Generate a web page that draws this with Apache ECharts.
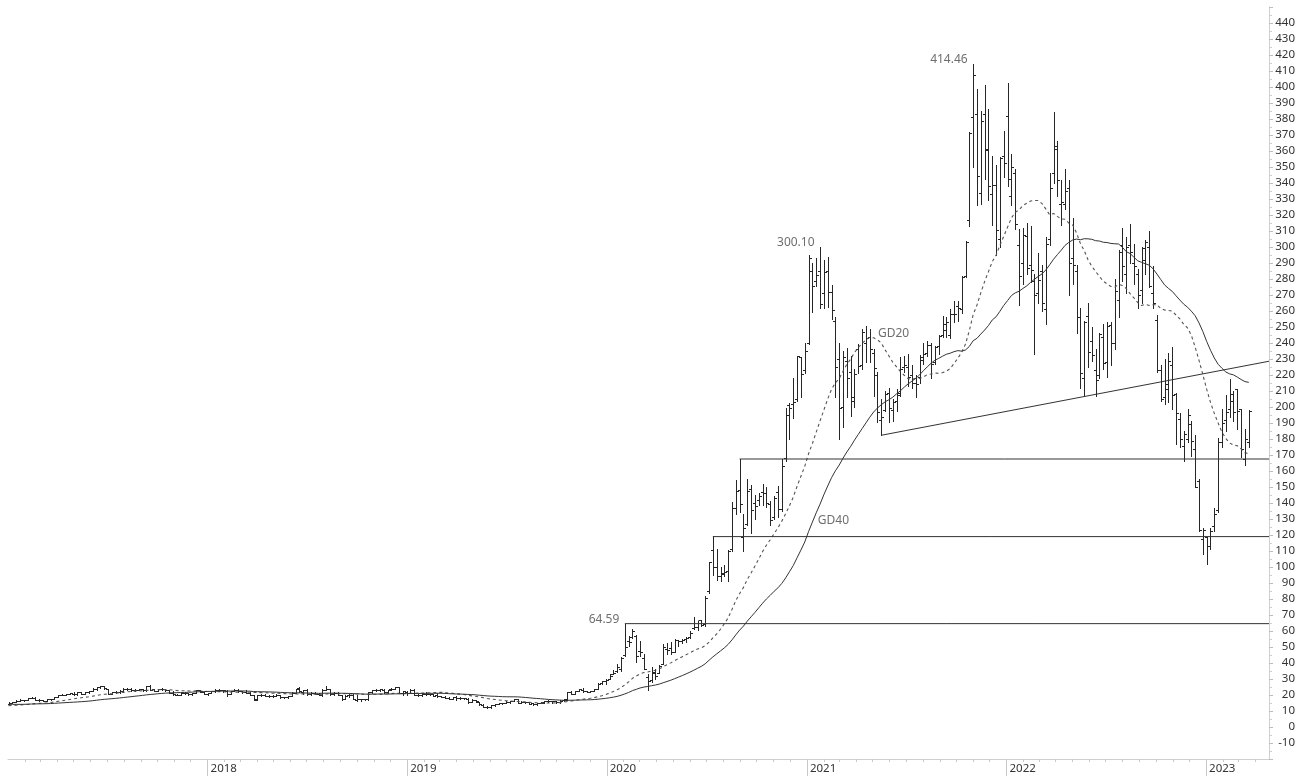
<!DOCTYPE html>
<html><head><meta charset="utf-8">
<script src="https://cdn.jsdelivr.net/npm/echarts@6/dist/echarts.min.js"></script>
<style>html,body{margin:0;padding:0;background:#fff}#c{width:1298px;height:776px}</style>
</head><body><div id="c"></div>
<script>
// ---- DATA (weekly OHLC, split-adjusted) ----
const firstWeek = [2017, 0, 2]; // Monday of the first plotted week
const seedClose2016 = [16.67,16.97,16.92,16.05,14.10,13.84,14.69,15.00,14.60,14.59,14.36,12.88,14.43,14.45,14.69,14.82,15.65,15.37,14.88,15.00,14.67,13.19,12.96,13.69,13.66,13.60,13.11,13.10,13.34,13.33,12.70,12.57,12.33,13.11,12.10,12.81,13.50,14.22,14.25];
const bars2017 = [[14.32,15.33,14.06,15.27],[15.27,15.92,15.10,15.85],[15.80,16.65,15.60,16.32],[16.35,17.25,16.30,16.86],[16.80,17.00,16.30,16.76],[16.80,18.00,16.70,17.95],[17.95,18.75,17.90,18.15],[18.30,18.60,16.90,17.13],[17.10,17.40,16.55,16.77],[16.70,16.95,16.15,16.25],[16.30,17.60,16.20,17.43],[17.40,17.70,16.90,17.54],[17.50,18.60,17.40,18.55],[19.00,20.30,18.90,20.17],[20.20,20.85,19.80,20.27],[20.20,20.55,19.90,20.37],[20.50,21.30,20.40,20.94],[20.90,21.80,20.00,20.56],[20.50,21.90,20.10,21.65],[21.60,21.70,20.40,20.72],[20.80,21.80,20.60,21.68],[21.70,22.80,21.50,22.66],[22.70,24.10,22.60,23.82],[23.90,25.20,23.10,24.76],[25.00,25.80,24.30,25.56],[25.50,25.70,23.80,24.11],[23.90,23.95,20.80,20.88],[20.90,22.10,20.60,21.85],[21.80,22.30,21.50,21.89],[21.90,23.00,21.50,22.34],[22.50,24.30,21.90,23.79],[23.90,24.50,23.10,23.86],[24.00,24.10,22.80,23.16],[23.00,23.50,22.70,23.20],[23.20,23.80,22.90,23.69],[23.60,23.70,22.60,22.89],[22.90,25.40,22.80,25.32],[25.50,25.97,23.20,23.41],[23.50,23.80,22.50,22.74],[22.80,24.00,22.70,23.79],[23.60,24.20,23.20,23.70],[23.70,24.00,22.60,23.01],[22.90,23.10,21.20,21.39],[21.30,22.30,19.90,20.41],[20.30,20.80,19.90,20.20],[20.20,21.30,19.80,21.00],[21.00,21.60,20.80,21.04],[21.00,21.20,20.30,20.44],[20.40,21.10,20.10,21.01],[21.10,23.00,21.00,22.90],[22.90,23.00,21.60,21.68],[21.60,21.70,20.60,20.76]];
const bars2018 = [[20.80,21.40,20.20,21.11],[21.10,22.60,21.00,22.41],[22.30,23.60,22.10,23.33],[23.40,23.70,22.50,22.86],[22.90,23.20,22.00,22.92],[22.20,22.90,19.65,20.69],[20.70,22.50,20.60,22.37],[22.50,24.00,22.30,23.40],[23.30,23.70,22.10,22.34],[22.30,22.60,21.20,21.81],[21.80,23.10,21.00,21.42],[21.40,21.60,20.10,20.10],[20.10,20.30,16.80,17.74],[16.90,20.30,16.80,19.95],[20.00,20.60,19.50,20.02],[19.95,20.50,19.20,19.35],[19.30,19.75,18.90,19.60],[19.60,20.10,18.60,19.61],[19.50,20.50,19.20,20.07],[20.00,20.10,18.30,18.45],[18.50,18.90,18.10,18.59],[18.50,19.60,18.30,19.45],[19.50,21.90,19.30,21.18],[21.30,24.00,21.20,23.88],[24.20,24.90,22.00,22.24],[22.10,23.10,20.90,22.86],[23.00,23.50,20.30,20.59],[20.60,21.70,20.20,21.26],[21.20,21.70,20.60,20.91],[20.90,21.30,19.70,19.81],[19.80,23.50,19.40,23.21],[23.40,25.80,23.20,23.70],[23.60,24.00,20.20,20.37],[20.40,21.90,20.10,21.52],[21.50,21.70,19.90,20.11],[19.80,20.20,16.70,17.55],[17.60,19.80,17.40,19.68],[19.70,20.40,19.00,19.94],[20.00,20.80,17.60,17.65],[16.90,20.10,16.40,17.46],[17.40,17.80,16.30,17.25],[17.20,17.50,16.60,17.40],[17.40,22.10,17.10,22.06],[22.00,23.20,21.10,23.09],[23.10,23.90,22.60,23.37],[23.30,23.80,22.60,23.62],[23.40,23.60,21.40,21.72],[21.70,23.40,21.50,23.37],[23.50,24.40,23.10,23.86],[24.00,25.30,23.80,25.12],[24.80,24.90,21.10,21.32],[21.00,22.30,19.80,22.26]];
const bars2019 = [[22.10,22.65,19.90,21.18],[21.10,23.60,21.00,23.15],[23.10,23.50,19.90,20.15],[20.10,20.60,19.30,19.80],[19.80,21.30,19.50,20.81],[20.80,21.60,20.10,20.39],[20.40,20.80,20.00,20.53],[20.50,20.70,19.60,19.65],[19.70,21.30,19.00,19.65],[19.40,19.50,18.50,18.94],[18.90,19.30,18.00,18.36],[18.30,18.70,17.50,17.64],[17.70,18.80,17.30,18.66],[18.70,19.20,17.10,18.33],[18.30,18.50,17.70,17.85],[17.90,18.40,17.60,18.22],[17.60,17.90,15.10,15.68],[15.80,17.20,15.60,17.00],[16.90,17.00,15.70,15.97],[15.80,15.90,13.90,14.07],[13.90,14.10,12.50,12.71],[12.70,12.90,12.10,12.34],[12.30,13.80,11.80,13.63],[13.70,14.50,13.40,14.26],[14.30,15.20,14.10,14.79],[14.90,15.20,14.50,14.90],[15.00,16.00,14.90,15.54],[15.50,16.50,15.30,16.36],[16.40,17.40,16.20,17.21],[17.20,17.30,15.00,15.20],[15.20,16.10,15.10,15.62],[15.40,15.80,15.00,15.67],[15.60,15.70,14.60,14.66],[14.70,15.10,14.00,14.09],[14.20,15.10,14.00,15.04],[15.00,15.40,14.90,15.31],[15.40,16.50,15.30,16.47],[16.40,16.60,15.80,16.04],[16.00,16.30,15.10,16.14],[16.10,16.30,15.00,15.43],[15.40,16.60,15.30,16.53],[16.60,17.30,16.50,17.13],[17.20,22.00,16.90,21.88],[21.90,22.20,20.50,20.89],[20.90,22.60,20.80,22.48],[22.60,23.50,22.30,23.48],[23.40,24.20,21.90,22.20],[22.20,22.70,21.90,22.00],[22.00,22.60,21.80,22.39],[22.40,24.00,22.30,23.89],[24.00,27.20,23.90,27.04],[27.30,29.00,27.10,28.69]];
const bars2020 = [[28.70,30.30,27.10,29.53],[29.90,33.20,29.70,31.88],[33.00,35.90,33.00,34.03],[34.70,39.40,34.40,37.65],[36.30,43.50,35.00,43.37],[44.91,64.59,44.30,49.87],[53.90,57.10,50.90,53.33],[56.20,61.20,55.50,60.07],[56.60,57.20,40.70,44.53],[47.40,53.80,44.40,46.90],[43.10,45.40,36.10,36.44],[31.30,32.90,23.37,28.51],[29.30,37.30,28.20,34.29],[33.60,36.00,29.76,32.00],[33.60,38.80,33.50,38.20],[39.30,51.60,39.20,50.16],[48.80,52.30,45.50,48.34],[49.10,53.40,45.70,46.75],[47.00,55.20,46.90,54.60],[54.30,54.60,50.50,53.53],[54.00,55.00,52.70,54.41],[55.30,56.30,53.30,55.67],[56.00,60.00,55.80,59.03],[62.00,68.50,61.00,62.35],[62.50,66.00,60.70,66.73],[66.80,66.90,63.00,63.93],[64.40,81.90,63.30,80.58],[85.00,103.20,84.00,102.98],[110.60,119.67,94.70,99.80],[100.00,111.00,92.00,94.47],[94.10,100.00,91.20,95.38],[96.00,101.40,94.60,96.84],[97.20,110.60,91.10,110.05],[111.00,140.90,110.10,136.67],[136.80,154.50,133.00,147.56],[148.20,167.50,134.10,139.44],[118.70,133.00,110.00,124.24],[127.00,155.00,126.50,147.38],[149.00,151.00,121.00,135.78],[140.00,145.00,130.00,138.36],[141.60,146.00,139.00,144.66],[147.00,152.00,139.00,146.56],[146.00,150.00,137.60,140.21],[139.50,141.00,126.40,129.35],[131.00,144.50,130.00,143.32],[146.60,150.80,131.40,136.17],[136.00,167.50,135.00,163.20],[168.00,199.60,166.00,195.25],[201.00,202.60,180.30,199.68],[201.60,218.00,193.00,203.33],[205.00,231.70,204.00,231.67],[231.00,231.00,206.00,220.59]];
const bars2021 = [[223.00,240.00,221.00,235.22],[239.80,294.80,239.10,293.34],[285.00,289.70,259.50,275.39],[279.00,292.90,275.60,282.21],[285.00,300.10,261.70,264.51],[271.50,292.00,262.00,284.08],[285.00,293.50,262.70,272.04],[272.00,276.00,255.30,260.43],[254.00,256.00,206.30,225.17],[230.00,240.30,179.83,199.32],[200.00,234.90,187.70,231.24],[229.00,236.60,206.00,218.29],[222.00,231.60,194.20,206.24],[204.00,223.50,200.20,220.58],[236.00,239.30,221.00,225.67],[226.00,249.00,224.00,246.59],[240.00,250.50,228.00,243.13],[244.00,248.50,228.00,236.48],[234.00,236.00,207.00,224.12],[220.00,222.00,190.40,196.58],[192.00,205.00,182.33,193.63],[198.00,210.20,197.60,208.41],[209.00,212.00,190.40,199.68],[198.00,205.00,191.00,203.30],[204.00,211.00,197.70,207.77],[209.00,231.30,207.00,223.96],[225.00,232.00,222.00,226.30],[225.00,233.30,213.30,218.98],[220.00,226.00,212.00,214.74],[215.00,220.00,206.00,214.46],[219.00,232.40,215.00,229.07],[231.00,240.00,227.00,233.03],[234.00,241.00,232.00,239.06],[239.00,240.00,218.00,226.75],[228.00,238.00,227.00,237.31],[238.00,244.70,233.00,244.52],[245.00,256.70,244.00,251.62],[248.00,256.00,244.00,253.16],[245.00,261.00,243.00,258.13],[258.00,266.30,253.00,258.41],[263.00,266.00,254.00,261.83],[261.00,281.60,259.00,281.01],[282.00,303.70,281.00,303.23],[316.80,371.70,313.00,371.33],[381.00,414.46,350.00,407.36],[383.00,399.00,326.20,344.47],[334.00,385.00,326.70,379.02],[383.00,401.00,342.20,360.64],[361.00,386.30,329.60,338.32],[333.00,357.00,314.00,339.01],[339.00,351.00,295.00,310.86],[305.00,356.00,300.00,355.67]];
const bars2022 = [[357.00,372.30,344.00,352.26],[382.00,402.67,338.00,342.32],[332.00,358.00,326.00,349.87],[346.00,349.00,311.00,314.63],[301.00,311.00,264.00,282.12],[290.00,312.00,277.00,307.77],[307.00,315.00,283.00,286.67],[289.00,313.00,278.00,285.66],[279.00,283.00,233.33,269.96],[271.00,296.00,265.00,279.43],[285.00,289.00,260.00,265.12],[261.00,306.00,252.00,301.80],[305.00,346.00,301.00,336.88],[346.00,384.29,340.00,361.53],[363.00,366.00,332.00,341.83],[327.00,342.00,314.00,328.33],[327.00,349.00,324.00,335.02],[337.00,342.00,270.00,290.25],[293.00,318.00,277.00,288.55],[285.00,289.00,246.00,256.53],[256.00,262.00,212.00,221.30],[218.00,254.00,206.86,253.21],[257.00,265.00,225.00,234.52],[241.00,250.00,229.00,232.23],[223.00,236.00,206.86,216.76],[220.00,246.00,218.00,245.71],[244.00,252.00,224.00,227.26],[228.00,253.00,219.00,250.76],[251.00,253.00,226.00,240.07],[240.00,280.00,236.00,272.24],[267.00,298.00,256.00,297.15],[301.00,311.90,279.00,288.17],[283.00,306.00,271.00,300.03],[301.00,314.67,290.00,296.67],[290.00,302.00,277.00,288.09],[283.00,286.00,262.00,270.21],[273.00,299.90,265.00,299.68],[292.00,304.60,283.00,303.35],[300.00,310.00,275.00,275.33],[271.00,288.00,262.00,265.25],[254.50,257.50,222.00,223.07],[223.00,226.00,203.50,204.99],[206.00,229.80,202.00,214.44],[211.00,233.80,203.00,228.52],[226.00,237.40,198.60,207.47],[208.00,208.90,177.10,195.97],[192.80,196.00,175.00,180.19],[175.80,185.00,166.20,182.86],[179.90,198.90,178.00,194.86],[189.40,191.30,169.10,179.05],[173.80,182.50,150.00,150.23],[154.00,155.20,122.30,123.15],[117.50,124.50,108.24,123.18]];
const bars2023 = [[118.47,118.80,101.81,113.06],[113.00,124.30,111.40,122.40],[125.70,137.00,122.50,133.42],[135.90,180.70,134.30,177.90],[178.00,199.00,174.70,189.98],[192.00,207.80,185.10,196.89],[199.00,217.65,194.00,208.31],[204.00,209.70,191.00,196.88],[211.00,211.20,186.00,197.79],[198.50,198.60,168.90,173.44],[167.50,186.20,163.91,180.13],[178.00,198.00,175.20,197.58]];

// Horizontal resistance/support lines: [start date, level]
const levelLines = [['2020-02-03', 64.59], ['2020-07-13', 119.0], ['2020-08-31', 167.5]];
// Trendline endpoints
const trendLine = [['2021-05-17', 182.33], ['2023-04-26', 228.6]];
// Text annotations: [date, value, text, side]
const notes = [['2020-02-03', 64.59, '64.59', 'left'], ['2021-01-25', 300.13, '300.10', 'left'], ['2021-11-01', 414.46, '414.46', 'left'], ['2021-05-10', 246, 'GD20', 'right'], ['2021-01-20', 129, 'GD40', 'right']];
const yearTicks = [2018, 2019, 2020, 2021, 2022, 2023];
const xMinDate = '2017-01-01', xMaxDate = '2023-04-26';

// ---- BUILD ----
const ts = s => { const p = s.split('-').map(Number); return new Date(p[0], p[1] - 1, p[2]).getTime(); };
const xMin = ts(xMinDate), xMax = ts(xMaxDate);
const allBars = [].concat(bars2017, bars2018, bars2019, bars2020, bars2021, bars2022, bars2023);
const weekTime = i => new Date(firstWeek[0], firstWeek[1], firstWeek[2] + 7 * i).getTime();
const ohlcData = allBars.map((b, i) => [weekTime(i), b[0], b[1], b[2], b[3]]);
const closes = seedClose2016.concat(allBars.map(b => b[3]));
function sma(n) {
  const out = [];
  for (let i = 0; i < allBars.length; i++) {
    const end = seedClose2016.length + i;
    let s = 0;
    for (let k = end - n + 1; k <= end; k++) s += closes[k];
    out.push([weekTime(i), s / n]);
  }
  return out;
}
const gd20 = sma(20), gd40 = sma(40);
const monthTicks = [];
for (let y = 2017; y <= 2023; y++) for (let m = 0; m < 12; m++) {
  const t = new Date(y, m, 1).getTime();
  if (t > xMin && t < xMax) monthTicks.push(t);
}
const yearVals = yearTicks.map(y => new Date(y, 0, 1).getTime());

function renderOHLC(params, api) {
  const t = api.value(0);
  const pO = api.coord([t, api.value(1)]);
  const pH = api.coord([t, api.value(2)]);
  const pL = api.coord([t, api.value(3)]);
  const pC = api.coord([t, api.value(4)]);
  const x = Math.round(pH[0]) + 0.5;
  const yo = Math.round(pO[1]) + 0.5, yc = Math.round(pC[1]) + 0.5;
  const st = { stroke: '#262626', lineWidth: 1 };
  return { type: 'group', children: [
    { type: 'line', shape: { x1: x, y1: Math.round(pH[1]), x2: x, y2: Math.round(pL[1]) + 1 }, style: st },
    { type: 'line', shape: { x1: x - 2.5, y1: yo, x2: x, y2: yo }, style: st },
    { type: 'line', shape: { x1: x, y1: yc, x2: x + 2.5, y2: yc }, style: st }
  ]};
}

const lineSeries = levelLines.map(l => ({
  type: 'line', xAxisIndex: 0, data: [[ts(l[0]), l[1]], [xMax, l[1]]], symbol: 'none', silent: true,
  lineStyle: { color: '#333', width: 1 }
}));

const chart = echarts.init(document.getElementById('c'));
chart.setOption({
  animation: false,
  backgroundColor: '#fff',
  grid: { left: 8, right: 29, top: 7, bottom: 17 },
  xAxis: [{
    type: 'value', min: xMin, max: xMax, scale: true,
    axisLine: { show: true, onZero: false, lineStyle: { color: '#cfcfcf', width: 1 } },
    axisTick: { show: true, customValues: monthTicks, length: 3, lineStyle: { color: '#c8c8c8' } },
    axisLabel: { show: false }, splitLine: { show: false }
  }, {
    type: 'value', min: xMin, max: xMax, scale: true, position: 'bottom',
    axisLine: { show: false, onZero: false },
    axisTick: { show: true, customValues: yearVals, length: 18, lineStyle: { color: '#c8c8c8' } },
    axisLabel: { show: true, customValues: yearVals, formatter: v => String(new Date(v).getFullYear()),
      align: 'left', margin: 4, padding: [0, 0, 0, 3], color: '#333', fontFamily: 'Noto Sans', fontSize: 11.5 },
    splitLine: { show: false }
  }],
  yAxis: {
    type: 'value', position: 'right', min: -20, max: 450, interval: 10,
    axisLine: { show: true, onZero: false, lineStyle: { color: '#cfcfcf' } },
    axisTick: { show: true, length: 4, lineStyle: { color: '#bdbdbd' } },
    minorTick: { show: true, splitNumber: 2, length: 3, lineStyle: { color: '#cfcfcf' } },
    axisLabel: { formatter: v => (v < -10 || v > 440) ? '' : String(v), align: 'right', margin: 26,
      color: '#333', fontFamily: 'Noto Sans', fontSize: 11.5 },
    splitLine: { show: false }
  },
  series: [
    { type: 'custom', name: 'OHLC', xAxisIndex: 0, renderItem: renderOHLC, data: ohlcData,
      encode: { x: 0, y: [1, 2, 3, 4] }, clip: true, silent: true },
    { type: 'line', name: 'GD20', xAxisIndex: 0, data: gd20, symbol: 'none',
      lineStyle: { color: '#555', width: 1.1, type: [3, 3] } },
    { type: 'line', name: 'GD40', xAxisIndex: 0, data: gd40, symbol: 'none',
      lineStyle: { color: '#333', width: 1 } },
    ...lineSeries,
    { type: 'line', xAxisIndex: 0, data: trendLine.map(p => [ts(p[0]), p[1]]), symbol: 'none', lineStyle: { color: '#333', width: 1 } },
    { type: 'scatter', xAxisIndex: 0, symbolSize: 1, itemStyle: { color: 'rgba(0,0,0,0)' }, silent: true,
      data: notes.map(n => ({ value: [ts(n[0]), n[1]], name: n[2],
        label: { show: true, formatter: n[2], position: n[3], distance: n[3] === 'left' ? 5 : 0,
          offset: n[3] === 'left' ? [0, -4] : [0, 0], color: '#4a4a4a', fontFamily: 'Noto Sans', fontSize: 12 } })) }
  ]
});
</script></body></html>
